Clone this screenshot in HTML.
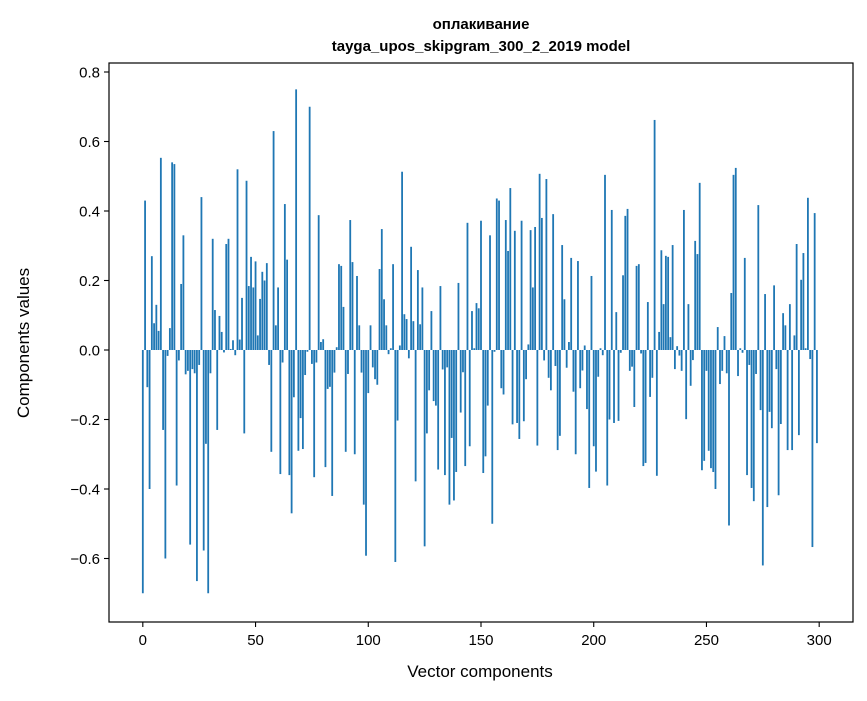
<!DOCTYPE html>
<html><head><meta charset="utf-8"><style>
body{margin:0;background:#fff;}
svg text{font-family:"Liberation Sans","DejaVu Sans",sans-serif;fill:#000;}
</style></head><body>
<svg id="chart" width="867" height="696" viewBox="0 0 867 696" xmlns="http://www.w3.org/2000/svg">
<text x="481" y="29" text-anchor="middle" font-size="15" font-weight="bold">оплакивание</text>
<text x="481" y="51" text-anchor="middle" font-size="15" font-weight="bold">tayga_upos_skipgram_300_2_2019 model</text>
<g id="bars"></g>
<g id="axes"></g>
<text x="480" y="677" text-anchor="middle" font-size="17">Vector components</text>
<text transform="translate(29,343) rotate(-90)" text-anchor="middle" font-size="17">Components values</text>
</svg>
<script>
const values = [
-0.70,0.43,-0.107,-0.40,0.27,0.077,0.13,0.055,0.553,-0.23,
-0.60,-0.017,0.063,0.54,0.535,-0.39,-0.03,0.19,0.33,-0.07,
-0.06,-0.56,-0.055,-0.067,-0.665,-0.043,0.44,-0.577,-0.27,-0.70,
-0.067,0.32,0.115,-0.23,0.098,0.052,-0.007,0.305,0.32,0.003,
0.028,-0.015,0.52,0.03,0.15,-0.24,0.487,0.184,0.268,0.18,
0.255,0.042,0.147,0.225,0.20,0.25,-0.043,-0.293,0.63,0.071,
0.18,-0.357,-0.036,0.42,0.26,-0.36,-0.47,-0.136,0.75,-0.29,
-0.196,-0.285,-0.072,-0.005,0.70,-0.04,-0.366,-0.036,0.388,0.023,
0.031,-0.337,-0.112,-0.106,-0.42,-0.065,0.008,0.247,0.242,0.124,
-0.293,-0.069,0.374,0.253,-0.30,0.213,0.071,-0.065,-0.445,-0.592,
-0.124,0.071,-0.05,-0.084,-0.10,0.233,0.348,0.146,0.071,-0.012,
0.005,0.247,-0.61,-0.203,0.013,0.513,0.103,0.089,-0.024,0.297,
0.083,-0.378,0.23,0.074,0.18,-0.565,-0.24,-0.116,0.112,-0.147,
-0.16,-0.344,0.184,-0.056,-0.36,-0.05,-0.445,-0.253,-0.433,-0.351,
0.193,-0.18,-0.064,-0.334,0.366,-0.277,0.112,0.005,0.135,0.12,
0.372,-0.354,-0.306,-0.16,0.33,-0.50,-0.005,0.436,0.43,-0.11,
-0.128,0.374,0.285,0.466,-0.214,0.343,-0.21,-0.256,0.372,-0.205,
-0.084,0.016,0.345,0.18,0.354,-0.275,0.507,0.38,-0.03,0.492,
-0.08,-0.116,0.391,-0.046,-0.288,-0.247,0.302,0.146,-0.051,0.023,
0.265,-0.12,-0.30,0.256,-0.11,-0.059,0.013,-0.17,-0.397,0.213,
-0.277,-0.35,-0.077,0.005,-0.015,0.504,-0.39,-0.20,0.403,-0.21,
0.109,-0.204,-0.008,0.215,0.386,0.406,-0.06,-0.048,-0.164,0.242,
0.247,-0.01,-0.334,-0.325,0.138,-0.135,-0.08,0.662,-0.362,0.052,
0.287,0.132,0.271,0.268,0.037,0.302,-0.055,0.011,-0.016,-0.06,
0.403,-0.199,0.132,-0.103,-0.029,0.314,0.276,0.481,-0.346,-0.319,
-0.06,-0.29,-0.34,-0.351,-0.40,0.066,-0.098,-0.06,0.04,-0.067,
-0.505,0.164,0.504,0.524,-0.075,0.005,-0.008,0.265,-0.36,-0.043,
-0.397,-0.435,-0.069,0.417,-0.173,-0.62,0.161,-0.452,-0.178,-0.225,
0.186,-0.055,-0.418,-0.213,0.106,0.071,-0.288,0.132,-0.288,0.042,
0.305,-0.245,0.202,0.279,0.005,0.438,-0.026,-0.567,0.394,-0.268
];
const xTicks = [0,50,100,150,200,250,300];
const yTicks = [-0.6,-0.4,-0.2,0.0,0.2,0.4,0.6,0.8];
const yTickLabels = ["−0.6","−0.4","−0.2","0.0","0.2","0.4","0.6","0.8"];

const L=109,R=853,T=63,B=622;
const xMin=-15,xMax=315,yZero=350,yPerUnit=347.5;
const xs=v=>L+(v-xMin)/(xMax-xMin)*(R-L);
const ys=v=>yZero-v*yPerUnit;
const NS="http://www.w3.org/2000/svg";
const bars=document.getElementById('bars');
const bw=(xs(0.8)-xs(0));
values.forEach((v,i)=>{
  const r=document.createElementNS(NS,'rect');
  const y0=ys(0),y1=ys(v);
  r.setAttribute('x',xs(i)-bw/2);
  r.setAttribute('y',Math.min(y0,y1));
  r.setAttribute('width',bw);
  r.setAttribute('height',Math.abs(y1-y0));
  r.setAttribute('fill','#1f77b4');
  
  
  bars.appendChild(r);
});
const axes=document.getElementById('axes');
function el(tag,attrs,text){const e=document.createElementNS(NS,tag);for(const k in attrs)e.setAttribute(k,attrs[k]);if(text!==undefined)e.textContent=text;axes.appendChild(e);return e;}
const frame=el('rect',{x:L,y:T,width:R-L,height:B-T,fill:'none',stroke:'#000','stroke-width':1.2});


xTicks.forEach(t=>{
  const x=xs(t);
  const ln=el('line',{x1:x,x2:x,y1:B,y2:B+5,stroke:'#000','stroke-width':1.1});
  
  
  const tx=el('text',{x:x,y:B+23,'text-anchor':'middle','font-size':15},String(t));
  
  
});
yTicks.forEach((t,i)=>{
  const y=ys(t);
  const ln=el('line',{x1:L-5,x2:L,y1:y,y2:y,stroke:'#000','stroke-width':1.1});
  
  
  const tx=el('text',{x:L-9,y:y+5.5,'text-anchor':'end','font-size':15},yTickLabels[i]);
  
  
});
</script>
</body></html>
